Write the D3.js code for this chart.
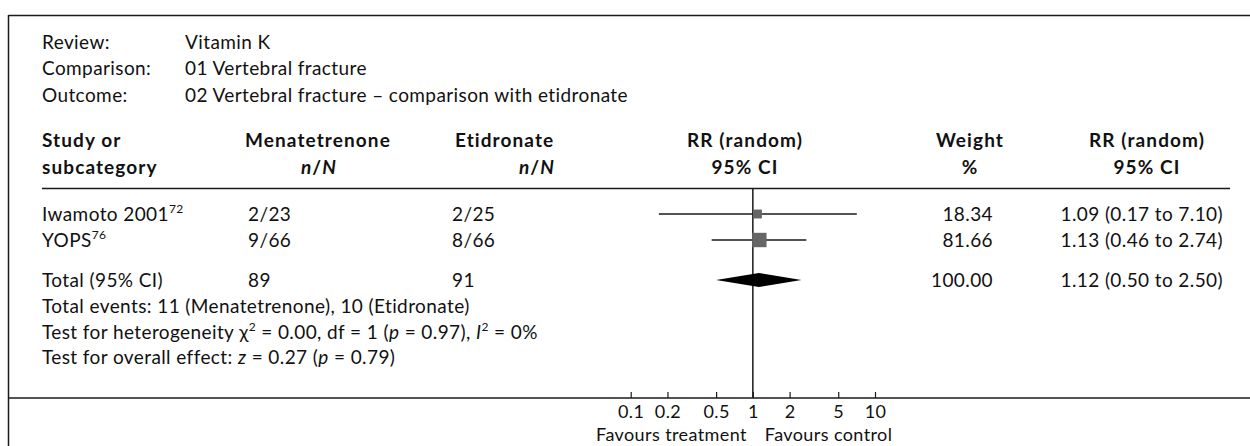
<!DOCTYPE html>
<html><head><meta charset="utf-8">
<script src="https://cdn.jsdelivr.net/npm/d3@7"></script>
<style>
html,body{margin:0;padding:0;background:#fff;}
svg text{font-family:Lato,"Open Sans",sans-serif;fill:#111;}
</style></head>
<body><svg id="c" width="1250" height="446"></svg>
<script>
// ---- data ----
const metaLabels = ["Review:", "Comparison:", "Outcome:"];
const metaValues = ["Vitamin K", "01 Vertebral fracture", "02 Vertebral fracture \u2013 comparison with etidronate"];
const studies = ["Iwamoto 2001", "YOPS"];
const studyRefs = ["72", "76"];
const treatEvents = ["2/23", "9/66"];
const ctrlEvents = ["2/25", "8/66"];
const rrValues = [1.09, 1.13];
const ciLow = [0.17, 0.46];
const ciHigh = [7.10, 2.74];
const weights = [18.34, 81.66];
const totalLabel = "Total (95% CI)";
const totalTreat = "89";
const totalCtrl = "91";
const pooled = [1.12, 0.50, 2.50];
const pooledWeight = 100.00;
const footLines = ["Total events: 11 (Menatetrenone), 10 (Etidronate)"];
const tickValues = [0.1, 0.2, 0.5, 1, 2, 5, 10];
const tickLabels = ["0.1", "0.2", "0.5", "1", "2", "5", "10"];
const favours = ["Favours treatment", "Favours control"];

// ---- layout ----
const FS = 19;
const svg = d3.select("#c");
const ink = "#1a1a1a";
const x = d3.scaleLog().domain([0.1, 10]).range([630.7, 875]);
const sq = d3.scaleSqrt().domain([0, 100]).range([4, 15.5]);
const fmt2 = d3.format(".2f");

function txt(xp, yc, s, anchor, weight, size) {
  const fs = size || FS;
  return svg.append("text").attr("x", xp).attr("y", yc + fs * 0.35)
    .attr("font-size", fs).attr("text-anchor", anchor || "start")
    .attr("font-weight", weight || "normal")
    .attr("letter-spacing", weight === "bold" ? 1.1 : 0.4).text(s);
}

// frame
svg.append("line").attr("x1", 8.5).attr("x2", 1250).attr("y1", 15.5).attr("y2", 15.5).attr("stroke", ink).attr("stroke-width", 1.5);
svg.append("line").attr("x1", 8.5).attr("x2", 8.5).attr("y1", 15).attr("y2", 446).attr("stroke", ink).attr("stroke-width", 1.5);

// meta
const metaY = [42, 68, 95];
metaLabels.forEach((l, i) => { txt(42, metaY[i], l); txt(185, metaY[i], metaValues[i]); });

// headers
const h1 = 140, h2 = 167;
txt(42, h1, "Study or", "start", "bold"); txt(42, h2, "subcategory", "start", "bold");
txt(245, h1, "Menatetrenone", "start", "bold");
const nN1 = txt(337, h2, "", "end", "bold");
nN1.append("tspan").attr("font-style", "italic").text("n"); nN1.append("tspan").text("/"); nN1.append("tspan").attr("font-style", "italic").text("N");
txt(455, h1, "Etidronate", "start", "bold");
const nN2 = txt(555, h2, "", "end", "bold");
nN2.append("tspan").attr("font-style", "italic").text("n"); nN2.append("tspan").text("/"); nN2.append("tspan").attr("font-style", "italic").text("N");
txt(745, h1, "RR (random)", "middle", "bold"); txt(745, h2, "95% CI", "middle", "bold");
txt(970, h1, "Weight", "middle", "bold"); txt(970, h2, "%", "middle", "bold");
txt(1147, h1, "RR (random)", "middle", "bold"); txt(1147, h2, "95% CI", "middle", "bold");

// separator
svg.append("line").attr("x1", 42).attr("x2", 1230).attr("y1", 188.5).attr("y2", 188.5).attr("stroke", ink).attr("stroke-width", 1.5);

const axisY = 398;
// null line
svg.append("line").attr("x1", x(1)).attr("x2", x(1)).attr("y1", 188).attr("y2", axisY).attr("stroke", ink).attr("stroke-width", 1.5);

// study rows
const rowY = [214, 240];
studies.forEach((s, i) => {
  const y = rowY[i];
  const t = txt(42, y, s);
  t.append("tspan").attr("font-size", 12).attr("dy", -8).text(studyRefs[i]);
  txt(248, y, treatEvents[i]);
  txt(452, y, ctrlEvents[i]);
  svg.append("line").attr("x1", x(ciLow[i])).attr("x2", x(ciHigh[i])).attr("y1", y).attr("y2", y).attr("stroke", ink).attr("stroke-width", 1.3);
  const w = sq(weights[i]);
  svg.append("rect").attr("x", x(rrValues[i]) - w / 2).attr("y", y - w / 2).attr("width", w).attr("height", w).attr("fill", "#666");
  txt(993, y, fmt2(weights[i]), "end");
  txt(1223, y, `${fmt2(rrValues[i])} (${fmt2(ciLow[i])} to ${fmt2(ciHigh[i])})`, "end");
});

// total row
const totY = 280;
txt(42, totY, totalLabel);
txt(248, totY, totalTreat);
txt(452, totY, totalCtrl);
const dh = 7;
svg.append("path").attr("d", `M${x(pooled[1])},${totY}L${x(pooled[0])},${totY - dh}L${x(pooled[2])},${totY}L${x(pooled[0])},${totY + dh}Z`).attr("fill", "#000");
txt(993, totY, fmt2(pooledWeight), "end");
txt(1223, totY, `${fmt2(pooled[0])} (${fmt2(pooled[1])} to ${fmt2(pooled[2])})`, "end");

// footnotes
txt(42, 306, footLines[0]);
const het = txt(42, 332, "Test for heterogeneity ");
het.append("tspan").text("\u03C7");
het.append("tspan").attr("font-size", 12).attr("dy", -8).text("2");
het.append("tspan").attr("dy", 8).text(" = 0.00, df = 1 (");
het.append("tspan").attr("font-style", "italic").text("p");
het.append("tspan").text(" = 0.97), ");
het.append("tspan").attr("font-style", "italic").text("I");
het.append("tspan").attr("font-size", 12).attr("dy", -8).text("2");
het.append("tspan").attr("dy", 8).text(" = 0%");
const ov = txt(42, 357, "Test for overall effect: ");
ov.append("tspan").attr("font-style", "italic").text("z");
ov.append("tspan").text(" = 0.27 (");
ov.append("tspan").attr("font-style", "italic").text("p");
ov.append("tspan").text(" = 0.79)");

// axis
svg.append("line").attr("x1", 8.5).attr("x2", 1250).attr("y1", axisY).attr("y2", axisY).attr("stroke", ink).attr("stroke-width", 1.5);
const ax = svg.append("g").attr("transform", `translate(0,${axisY})`)
  .call(d3.axisBottom(x).tickValues(tickValues).tickFormat((d, i) => tickLabels[i]).tickSize(-6).tickPadding(7));
ax.select(".domain").remove();
ax.selectAll(".tick line").attr("stroke", ink).attr("stroke-width", 1.2);
ax.selectAll(".tick text").attr("font-size", 18).attr("letter-spacing", 0.4)
  .attr("font-family", "Lato, 'Open Sans', sans-serif").attr("fill", "#111");
txt(x(1) - 6, 435, favours[0], "end", "normal", 18);
txt(x(1) + 12, 435, favours[1], "start", "normal", 18);
</script></body></html>
